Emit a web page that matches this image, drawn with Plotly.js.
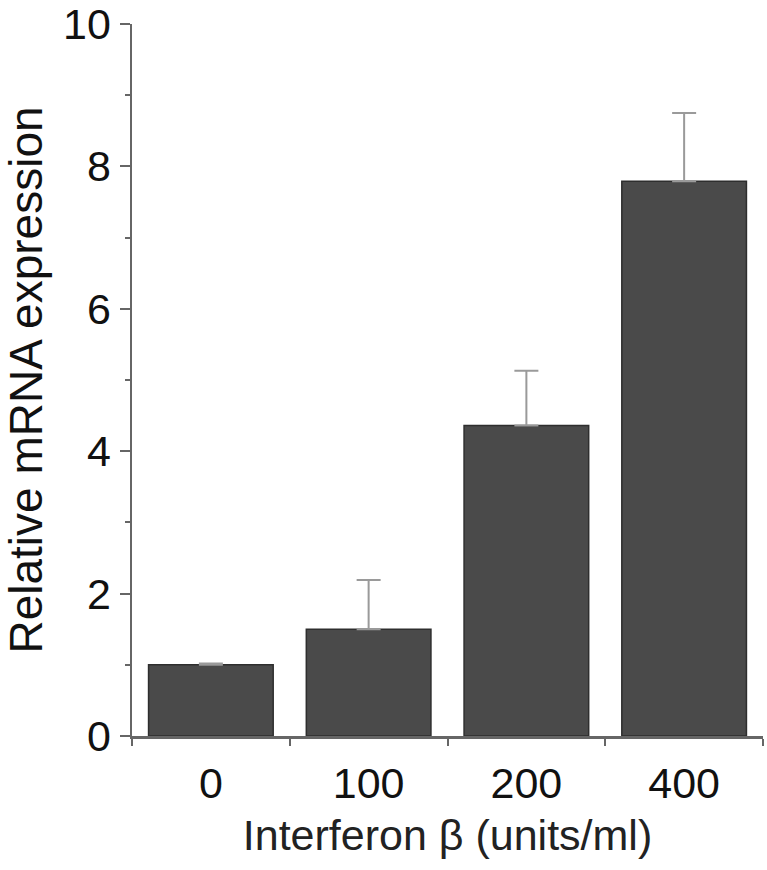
<!DOCTYPE html>
<html>
<head>
<meta charset="utf-8">
<script src="https://cdn.plot.ly/plotly-3.0.1.min.js"></script>
<style>html,body{margin:0;padding:0;background:#fff;}</style>
</head>
<body>
<div id="chart" style="width:767px;height:870px;"></div>
<script>
const categories = ["0", "100", "200", "400"];
const values = [1.0, 1.50, 4.36, 7.79];
const errors = [0.02, 0.69, 0.77, 0.96];
const yTicks = [0, 2, 4, 6, 8, 10];

const trace = {
  type: "bar",
  x: categories,
  y: values,
  width: 0.79,
  marker: {color: "#4a4a4a", line: {color: "#2e2e2e", width: 1.5}},
  error_y: {type: "data", array: errors, symmetric: false, arrayminus: errors.map(() => 0),
            color: "#9a9a9a", thickness: 2, width: 12, visible: true}
};

const layout = {
  width: 767, height: 870,
  margin: {l: 132, r: 4, t: 24, b: 134},
  paper_bgcolor: "#fff", plot_bgcolor: "#fff",
  showlegend: false,
  font: {family: "Liberation Sans, Arial, sans-serif", color: "#111"},
  xaxis: {
    type: "category",
    showgrid: false, zeroline: false,
    showline: true, linecolor: "#666", linewidth: 2.5,
    ticks: "outside", tickson: "boundaries", ticklen: 7, tickwidth: 2, tickcolor: "#666",
    tickfont: {size: 43, color: "#111"},
    ticklabelstandoff: 8,
    title: {text: "Interferon β (units/ml)", font: {size: 43, color: "#222"}, standoff: 14}
  },
  yaxis: {
    range: [0, 10],
    tickvals: yTicks,
    showgrid: false, zeroline: false,
    showline: true, linecolor: "#666", linewidth: 2.5,
    ticks: "outside", ticklen: 10, tickwidth: 2, tickcolor: "#666",
    ticklabeloverflow: "allow",
    minor: {dtick: 1, ticks: "outside", ticklen: 5, tickwidth: 2, tickcolor: "#666", showgrid: false},
    tickfont: {size: 43, color: "#111"},
    title: {text: "Relative mRNA expression", font: {size: 46, color: "#111"}, standoff: 14}
  }
};

Plotly.newPlot("chart", [trace], layout, {displayModeBar: false, staticPlot: true});
</script>
</body>
</html>
